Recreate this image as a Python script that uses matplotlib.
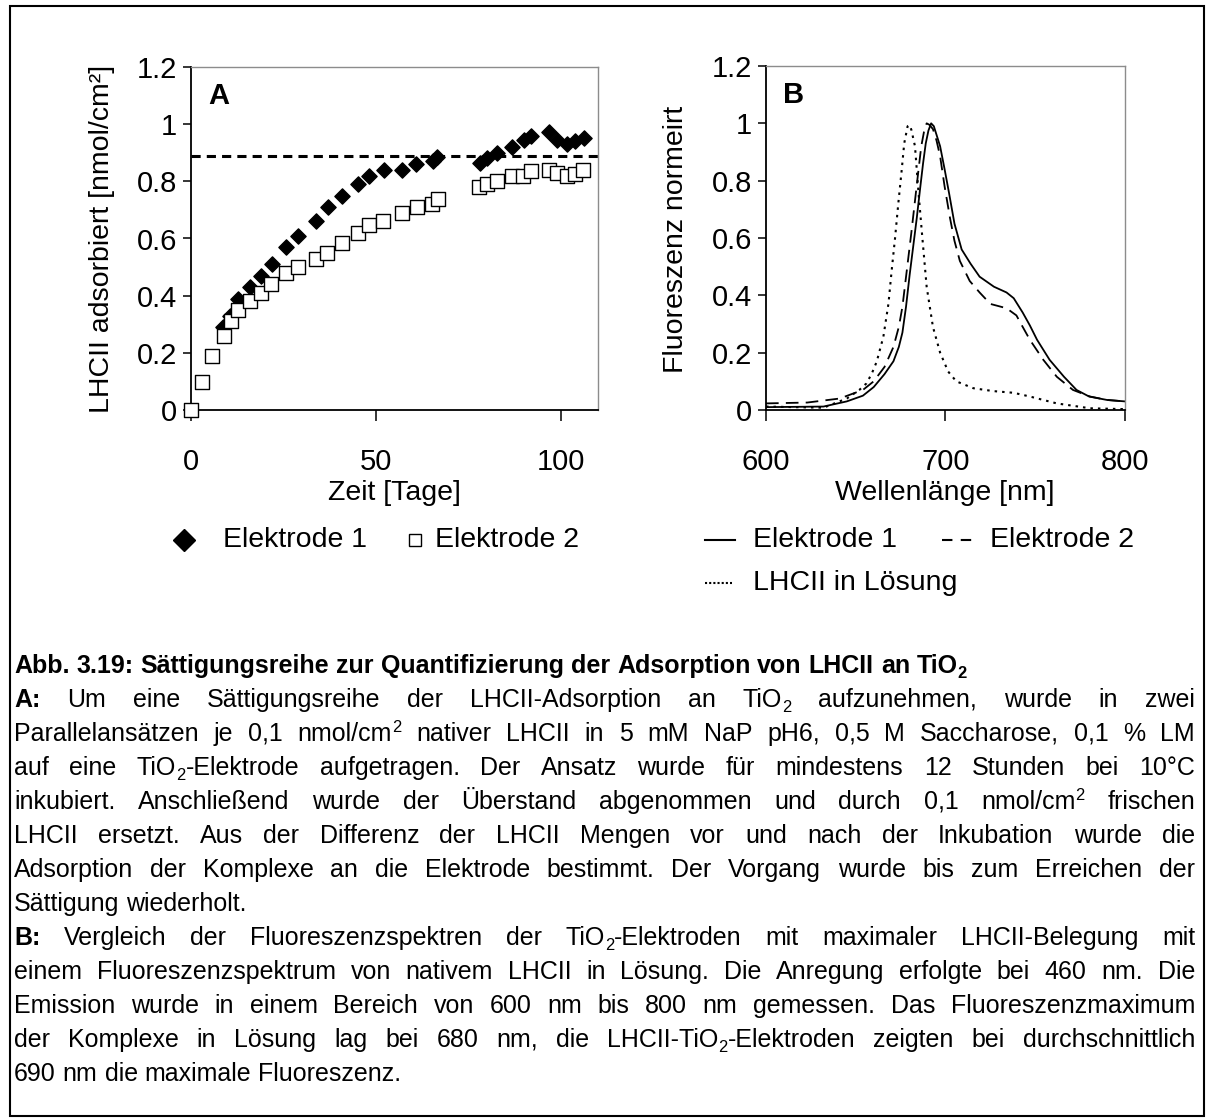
import re
import matplotlib
matplotlib.use('Agg')
import matplotlib.pyplot as plt
from matplotlib.lines import Line2D
from matplotlib.patches import Rectangle
from matplotlib.font_manager import FontProperties

plt.rcParams['font.family'] = ['Liberation Sans', 'DejaVu Sans']

# Panel A: Saettigungsreihe
tage_e1 = [8.7, 10.5, 12.7, 15.9, 18.9, 21.9, 25.8, 28.9, 33.8, 37.0, 40.8, 45.1, 48.0, 52.1,
           57.0, 60.9, 65.3, 66.6, 78.0, 80.1, 82.8, 86.8, 89.9, 92.0, 96.7, 98.9, 101.6, 103.9, 106.1]
ads_e1 = [0.29, 0.33, 0.39, 0.43, 0.47, 0.51, 0.57, 0.61, 0.66, 0.71, 0.75, 0.79, 0.82, 0.84,
          0.84, 0.86, 0.87, 0.885, 0.865, 0.88, 0.90, 0.92, 0.945, 0.957, 0.973, 0.944, 0.93, 0.94, 0.953]
tage_e2 = [0, 2.9, 5.7, 8.9, 10.9, 12.7, 15.9, 18.9, 21.7, 25.8, 28.9, 33.8, 36.7, 40.8, 45.1, 48.0,
           51.8, 56.9, 61.0, 65.0, 66.8, 77.8, 79.9, 82.8, 86.8, 89.7, 91.9, 96.7, 98.9, 101.6, 103.9, 105.9]
ads_e2 = [0.0, 0.097, 0.19, 0.26, 0.31, 0.35, 0.38, 0.41, 0.44, 0.48, 0.50, 0.53, 0.55, 0.585, 0.62, 0.647,
          0.66, 0.69, 0.71, 0.72, 0.737, 0.78, 0.79, 0.80, 0.82, 0.82, 0.836, 0.84, 0.83, 0.82, 0.825, 0.84]
saettigung = 0.89

# Panel B: Fluoreszenzspektren
wl_e1 = [600, 632, 645, 654, 660, 666, 671, 674, 676, 678, 680, 682, 684, 686, 687.5, 689, 690.5,
         692, 693.5, 695, 697, 699.5, 702, 705, 709, 714, 719, 727, 734, 738, 743, 747, 751, 758,
         766, 773, 780, 790, 800]
fl_e1 = [0.01, 0.012, 0.03, 0.05, 0.08, 0.125, 0.17, 0.22, 0.27, 0.36, 0.47, 0.57, 0.67, 0.78,
         0.86, 0.93, 0.975, 1.0, 0.99, 0.96, 0.92, 0.84, 0.756, 0.65, 0.56, 0.51, 0.465, 0.43, 0.41,
         0.39, 0.34, 0.295, 0.245, 0.175, 0.116, 0.07, 0.047, 0.035, 0.03]
wl_e2 = [600, 623, 641, 654, 660, 666, 671, 674, 676, 678.5, 681, 683, 685, 686.5, 688, 689.5, 691,
         693, 695, 697, 699.5, 702.5, 705, 708, 713.5, 719, 725, 734, 739.5, 743, 747, 754.5, 762, 771,
         780.5, 790, 800]
fl_e2 = [0.023, 0.026, 0.04, 0.07, 0.1, 0.15, 0.22, 0.29, 0.36, 0.49, 0.62, 0.73, 0.84, 0.92, 0.97,
         1.0, 0.995, 0.98, 0.94, 0.885, 0.78, 0.67, 0.59, 0.52, 0.45, 0.41, 0.37, 0.355, 0.33, 0.29,
         0.245, 0.175, 0.116, 0.07, 0.047, 0.035, 0.03]
wl_lsg = [600, 632, 645, 652, 656, 659, 661.7, 665.4, 668.2, 670, 671.9, 673.7, 675.6, 677, 678.9,
          680, 681, 683, 685, 686.7, 689.5, 693, 697, 701.5, 706, 715.5, 726.5, 738, 747, 762, 780.5, 800]
fl_lsg = [0.012, 0.008, 0.04, 0.07, 0.093, 0.128, 0.169, 0.256, 0.37, 0.486, 0.6, 0.72, 0.837, 0.93, 0.99,
          0.994, 0.977, 0.92, 0.756, 0.63, 0.43, 0.29, 0.2, 0.134, 0.1, 0.076, 0.066, 0.06, 0.047, 0.023,
          0.006, 0.003]

yticks = [0, 0.2, 0.4, 0.6, 0.8, 1, 1.2]
yticklabels = ['0', '0.2', '0.4', '0.6', '0.8', '1', '1.2']

caption = [
    ('**Abb. 3.19: Sättigungsreihe zur Quantifizierung der Adsorption von LHCII an TiO_{2}**', False),
    ('**A:** Um eine Sättigungsreihe der LHCII-Adsorption an TiO_{2} aufzunehmen, wurde in zwei', True),
    ('Parallelansätzen je 0,1 nmol/cm^{2} nativer LHCII in 5 mM NaP pH6, 0,5 M Saccharose, 0,1 % LM', True),
    ('auf eine TiO_{2}-Elektrode aufgetragen. Der Ansatz wurde für mindestens 12 Stunden bei 10°C', True),
    ('inkubiert. Anschließend wurde der Überstand abgenommen und durch 0,1 nmol/cm^{2} frischen', True),
    ('LHCII ersetzt. Aus der Differenz der LHCII Mengen vor und nach der Inkubation wurde die', True),
    ('Adsorption der Komplexe an die Elektrode bestimmt. Der Vorgang wurde bis zum Erreichen der', True),
    ('Sättigung wiederholt.', False),
    ('**B:** Vergleich der Fluoreszenzspektren der TiO_{2}-Elektroden mit maximaler LHCII-Belegung mit', True),
    ('einem Fluoreszenzspektrum von nativem LHCII in Lösung. Die Anregung erfolgte bei 460 nm. Die', True),
    ('Emission wurde in einem Bereich von 600 nm bis 800 nm gemessen. Das Fluoreszenzmaximum', True),
    ('der Komplexe in Lösung lag bei 680 nm, die LHCII-TiO_{2}-Elektroden zeigten bei durchschnittlich', True),
    ('690 nm die maximale Fluoreszenz.', False),
]

W, H = 1210, 1119
fig = plt.figure(figsize=(W / 100, H / 100), dpi=100)


def fx(px):
    return px / W


def fy(py):
    return 1 - py / H


def style_axes(ax):
    for s in ['left', 'bottom']:
        ax.spines[s].set_color('black')
        ax.spines[s].set_linewidth(1.3)
    for s in ['top', 'right']:
        ax.spines[s].set_color('#8c8c8c')
        ax.spines[s].set_linewidth(1.0)
    ax.tick_params(axis='y', direction='out', length=6, width=1.1, labelsize=21, pad=4)
    ax.tick_params(axis='x', direction='out', length=8, width=1.1, labelsize=21, pad=19)
    ax.set_yticks(yticks)
    ax.set_yticklabels(yticklabels)
    ax.set_ylim(0, 1.2)


# ---- Panel A
axA = fig.add_axes([fx(191), fy(410), fx(407), 343 / H])
axA.scatter(tage_e1, ads_e1, marker='D', s=60, color='black', zorder=3, clip_on=False)
axA.scatter(tage_e2, ads_e2, marker='s', s=95, facecolor='white', edgecolor='black',
            linewidths=1.0, zorder=4, clip_on=False)
axA.axhline(saettigung, color='black', lw=2.2, ls=(0, (3, 2)), zorder=2)
axA.set_xlim(0, 110)
axA.set_xticks([0, 50, 100])
style_axes(axA)
axA.text(0.042, 0.955, 'A', transform=axA.transAxes, fontsize=21, fontweight='bold', va='top')

# ---- Panel B
axB = fig.add_axes([fx(766), fy(410), fx(359), 344 / H])
axB.plot(wl_e1, fl_e1, color='black', lw=1.3)
axB.plot(wl_e2, fl_e2, color='black', lw=1.3, ls=(0, (7, 4)))
axB.plot(wl_lsg, fl_lsg, color='black', lw=1.5, ls=(0, (1.2, 2.4)))
axB.set_xlim(600, 800)
axB.set_xticks([600, 700, 800])
style_axes(axB)
axB.text(0.047, 0.955, 'B', transform=axB.transAxes, fontsize=21, fontweight='bold', va='top')

# axis labels
fig.text(fx(102), fy(239), 'LHCII adsorbiert [nmol/cm²]', rotation=90, fontsize=20.5,
         ha='center', va='center')
fig.text(fx(394), fy(493), 'Zeit [Tage]', fontsize=20.5, ha='center', va='center')
fig.text(fx(676), fy(239), 'Fluoreszenz normeirt', rotation=90, fontsize=20.5,
         ha='center', va='center')
fig.text(fx(945), fy(493), 'Wellenlänge [nm]', fontsize=20.5, ha='center', va='center')

# ---- legends (drawn by hand to match the layout)
fig.add_artist(Line2D([fx(184)], [fy(540)], marker='D', ms=11, color='black', ls='none'))
fig.text(fx(223), fy(540), 'Elektrode 1', fontsize=20.5, va='center')
fig.add_artist(Line2D([fx(415)], [fy(540)], marker='s', ms=9, mfc='white', mec='black',
                      mew=1.0, ls='none'))
fig.text(fx(435), fy(540), 'Elektrode 2', fontsize=20.5, va='center')

fig.add_artist(Line2D([fx(705), fx(735)], [fy(540), fy(540)], color='black', lw=1.5))
fig.text(fx(753), fy(540), 'Elektrode 1', fontsize=20.5, va='center')
fig.add_artist(Line2D([fx(942), fx(972)], [fy(540), fy(540)], color='black', lw=1.5,
                      ls=(0, (5, 4))))
fig.text(fx(990), fy(540), 'Elektrode 2', fontsize=20.5, va='center')
fig.add_artist(Line2D([fx(705), fx(732)], [fy(583), fy(583)], color='black', lw=1.5,
                      ls=(0, (1, 1))))
fig.text(fx(753), fy(583), 'LHCII in Lösung', fontsize=20.5, va='center')

# ---- caption (justified block)
renderer = fig.canvas.get_renderer()
cap_size = 18
left_px, right_px = 14, 1195
base0, line_step = 673, 34


def parse_word(word):
    runs = []
    for m in re.finditer(r'\*\*|_\{(.+?)\}|\^\{(.+?)\}|([^*_^]+)', word):
        if m.group(0) == '**':
            runs.append(('TOGGLE', None))
        elif m.group(1):
            runs.append((m.group(1), 'sub'))
        elif m.group(2):
            runs.append((m.group(2), 'sup'))
        else:
            runs.append((m.group(3), 'n'))
    return runs


def prop_for(bold, kind):
    size = cap_size * (0.66 if kind in ('sub', 'sup') else 1.0)
    return FontProperties(family='Liberation Sans', size=size,
                          weight='bold' if bold else 'normal')


def width_of(text, prop):
    w, h, d = renderer.get_text_width_height_descent(text, prop, ismath=False)
    return w


space_w = width_of('a a', prop_for(False, 'n')) - width_of('aa', prop_for(False, 'n'))

for i, (line, justify) in enumerate(caption):
    bold = False
    words = []
    for word in line.split(' '):
        pieces = []
        for text, kind in parse_word(word):
            if text == 'TOGGLE':
                bold = not bold
                continue
            prop = prop_for(bold, kind)
            pieces.append((text, kind, prop, width_of(text, prop)))
        words.append(pieces)
    widths = [sum(p[3] for p in w) for w in words]
    gaps = len(words) - 1
    if justify and gaps > 0:
        gap = (right_px - left_px - sum(widths)) / gaps
    else:
        gap = space_w
    base = base0 + i * line_step
    x = left_px
    for w, wd in zip(words, widths):
        xx = x
        for text, kind, prop, pw in w:
            dy = 5 if kind == 'sub' else (-9 if kind == 'sup' else 0)
            fig.text(fx(xx), fy(base + dy), text, fontproperties=prop, va='baseline', ha='left')
            xx += pw
        x += wd + gap

# outer frame
fig.add_artist(Rectangle((fx(10), fy(1116)), fx(1194), (1110) / H, fill=False,
                         edgecolor='black', lw=1.5, transform=fig.transFigure))

fig.savefig('out.png', dpi=100)
